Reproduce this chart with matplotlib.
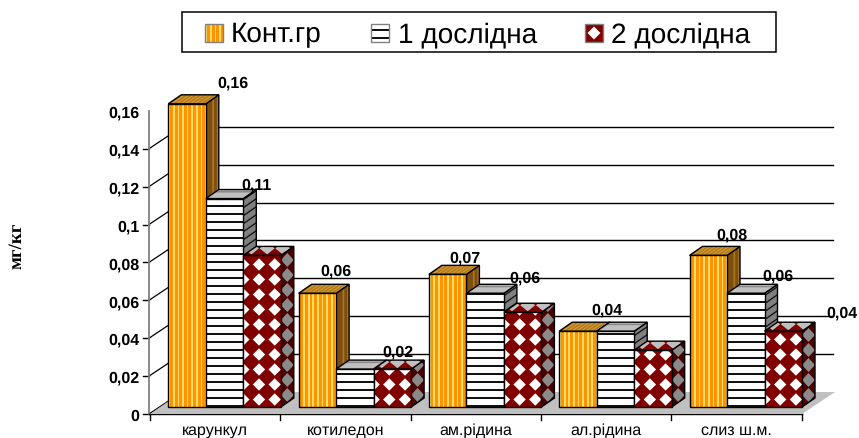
import numpy as np
import matplotlib
matplotlib.use('Agg')
import matplotlib.pyplot as plt
from matplotlib.patches import Polygon

plt.rcParams['text.hinting'] = 'no_hinting'
plt.rcParams['text.hinting_factor'] = 1

categories = ['карункул', 'котиледон', 'ам.рідина', 'ал.рідина', 'слиз ш.м.']
series_names = ['Конт.гр', '1 дослідна', '2 дослідна']
control = [0.16, 0.06, 0.07, 0.04, 0.08]
group_1 = [0.11, 0.02, 0.06, 0.04, 0.06]
group_2 = [0.08, 0.02, 0.05, 0.03, 0.04]
y_ticks = [0, 0.02, 0.04, 0.06, 0.08, 0.1, 0.12, 0.14, 0.16]
y_tick_labels = ['0', '0,02', '0,04', '0,06', '0,08', '0,1', '0,12', '0,14', '0,16']
grid_values = [0.02, 0.04, 0.06, 0.08, 0.1, 0.12, 0.14]
# (group, series, text, dx px, dy px), labels sit away from the bars in the original
bar_labels = [
	(0, 0, '0,16', 46, 21), (0, 1, '0,11', 32, 14),
	(1, 0, '0,06', 19, 23), (1, 2, '0,02', 6, 18),
	(2, 0, '0,07', 17, 17), (2, 1, '0,06', 40, 16),
	(3, 0, '0,04', 29, 22),
	(4, 0, '0,08', 24, 21), (4, 1, '0,06', 32, 18), (4, 2, '0,04', 59, 19),
]

W, H = 859, 439
PX = 1 / 130.3        # one pixel in x data units (group pitch is 130.3 px)
PY = 0.02 / 37.9      # one pixel in y data units
BAR_W = 37.5 * PX
FONT = 'Liberation Sans'

fig = plt.figure(figsize=(W / 100, H / 100), dpi=100)
ax = fig.add_axes([0, 0, 1, 1])
ax.set_xlim(-168.3 * PX, (W - 168.3) * PX)
ax.set_ylim(-(H - 408) * PY, 408 * PY)
ax.axis('off')


def to_x(px):
	return (px - 168.3) * PX


def to_y(py):
	return (408 - py) * PY


def add_poly(pts, clip=None, **kw):
	kw.setdefault('edgecolor', 'none')
	kw.setdefault('linewidth', 0)
	p = Polygon(pts, closed=True, zorder=2, **kw)
	ax.add_patch(p)
	if clip is not None:
		p.set_clip_path(clip)
	return p


def draw_pattern(origin, u, v, nu, nv, kind, base, accent, start=0.0, tstart=7.5, rx=6.2, ry=6.2, outline=True):
	"""fill a parallelogram, u and v are one pixel steps along its sides"""
	o, u, v = np.array(origin), np.array(u), np.array(v)
	corners = [o, o + nu * u, o + nu * u + nv * v, o + nv * v]
	face = add_poly(corners, facecolor=base)
	if kind == 'vstripe':
		for s in np.arange(start, nu, 4.6):
			add_poly([o + s * u, o + (s + 1.7) * u, o + (s + 1.7) * u + nv * v, o + s * u + nv * v],
				clip=face, facecolor=accent)
	elif kind == 'hstripe':
		for t in np.arange(start, nv, 8.0):
			add_poly([o + t * v, o + t * v + nu * u, o + (t + 1.6) * v + nu * u, o + (t + 1.6) * v],
				clip=face, facecolor=accent)
	elif kind == 'diamond':
		dx = np.array([rx * PX, 0])
		dy = np.array([0, ry * PY])
		for s in np.arange(start, nu + 16, 15.7):
			for t in np.arange(tstart, nv + 16, 15.0):
				c = o + s * u + t * v
				add_poly([c - dx, c + dy, c + dx, c - dy], clip=face, facecolor=accent)
	if outline:
		add_poly(corners, fill=False, edgecolor='black', linewidth=1.0)


styles = [
	{'kind': 'vstripe', 'front': ('#FF9400', '#FFDD66'), 'side': ('#7E4E10', '#A8781E'), 'top': ('#B87A18', '#D0A040')},
	{'kind': 'hstripe', 'front': ('white', '#111111'), 'side': ('#808080', '#111111'), 'top': ('#C0C0C0', '#8A8A8A')},
	{'kind': 'diamond', 'front': ('#800000', 'white'), 'side': ('#4A0000', '#8A8A8A'), 'top': ('#800000', '#C0C0C0')},
]


def draw_bar(x, value, style):
	kind = style['kind']
	h_px = value / PY
	# side and top first so the front edges stay on top
	draw_pattern((x + BAR_W, 0), (PX, 9 / 13 * PY), (0, PY), 13, h_px, kind, *style['side'], start=6.5, rx=6.5, ry=7.0)
	draw_pattern((x, value), (PX, 0), (13 / 9 * PX, PY), 37.5, 9, kind, *style['top'], start=-2.0, tstart=7.0, rx=7.5, ry=6.0)
	draw_pattern((x, 0), (PX, 0), (0, PY), 37.5, h_px, kind, *style['front'], start=0.0)


# floor
add_poly([(to_x(150), to_y(415)), (to_x(802), to_y(415)), (to_x(835), to_y(393)), (to_x(182), to_y(393))],
	facecolor='#C0C0C0')

# back wall grid
for val in grid_values:
	yb = to_y(393) + val
	ax.plot([to_x(182), to_x(833)], [yb, yb], color='black', lw=1.0, zorder=1)

# y axis with ticks running into the wall, top value has only its label
for val, lab in zip(y_ticks, y_tick_labels):
	yf = to_y(415) + val
	if val < y_ticks[-1]:
		ax.plot([to_x(143), to_x(149)], [yf, yf], color='black', lw=1.0, zorder=1)
		ax.plot([to_x(149), to_x(182)], [yf, yf + 22 * PY], color='black', lw=0.9, zorder=1)
	ax.text(to_x(139.5), yf, lab, ha='right', va='center_baseline', family=FONT, fontsize=11.3,
		fontweight='bold', color='black')
ax.plot([to_x(149), to_x(149)], [to_y(415), to_y(415) + y_ticks[-1]], color='#808080', lw=1.3, zorder=1)
ax.plot([to_x(149), to_x(802)], [to_y(415), to_y(415)], color='black', lw=1.0, zorder=1.5)

# bars, left to right so each one covers the side of the previous
all_values = [control, group_1, group_2]
for g in range(len(categories)):
	left = g - 18.3 * PX
	ax.plot([left, left], [to_y(415), to_y(421)], color='black', lw=1.0, zorder=1)
	ax.text(left + 0.5, to_y(435), categories[g], ha='center', va='baseline', family=FONT,
		fontsize=11.3, color='black')
	for s, values in enumerate(all_values):
		draw_bar(g + s * BAR_W, values[g], styles[s])
ax.plot([to_x(802), to_x(802)], [to_y(415), to_y(421)], color='black', lw=1.0, zorder=1)

# value labels
for g, s, text, dx, dy in bar_labels:
	ax.annotate(text, (g + (s + 0.5) * BAR_W, all_values[s][g]), xytext=(dx, dy), textcoords='offset pixels',
		ha='center', va='center', family=FONT, fontsize=11.3, fontweight='bold', color='black', zorder=5)

# y title
ax.text(to_x(17), to_y(246), 'мг/кг', rotation=90, ha='center', va='center', family='Liberation Serif',
	fontsize=13.5, fontweight='bold', color='black')

# legend
add_poly([(to_x(182), to_y(12.5)), (to_x(776), to_y(12.5)), (to_x(776), to_y(52.5)), (to_x(182), to_y(52.5))],
	facecolor='white', edgecolor='black', linewidth=1.1)
icon_x = [204.5, 371, 585]
text_x = [231, 398, 611]
icon_start = [1.0, 3.0, 9.0]
for name, ix, tx, st, style in zip(series_names, icon_x, text_x, icon_start, styles):
	draw_pattern((to_x(ix), to_y(43)), (PX, 0), (0, PY), 18, 18, style['kind'], *style['front'], start=st,
		tstart=9.0, rx=6.5, ry=6.5, outline=False)
	add_poly([(to_x(ix), to_y(43)), (to_x(ix + 18), to_y(43)), (to_x(ix + 18), to_y(25)), (to_x(ix), to_y(25))],
		fill=False, edgecolor='#808080', linewidth=1.0)
	ax.text(to_x(tx), to_y(42), name, ha='left', va='baseline', family=FONT, fontsize=20.5, color='black', zorder=5)

fig.savefig('out.png', dpi=100)
